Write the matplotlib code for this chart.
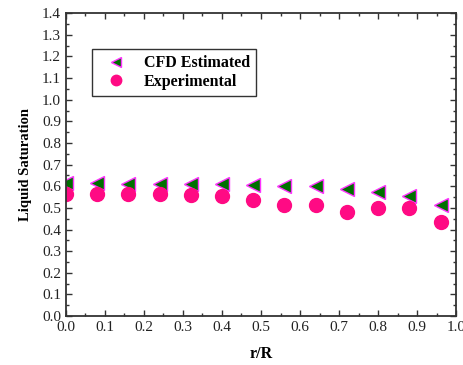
import numpy as np
import matplotlib.pyplot as plt
from matplotlib.ticker import MultipleLocator, FormatStrFormatter

plt.rcParams['font.family'] = ['Liberation Serif', 'DejaVu Serif']

r_R = [0.0, 0.08, 0.16, 0.24, 0.32, 0.40, 0.48, 0.56, 0.64, 0.72, 0.80, 0.88, 0.96]
cfd = [0.614, 0.614, 0.612, 0.611, 0.611, 0.610, 0.605, 0.602, 0.599, 0.586, 0.573, 0.555, 0.514]
eksperimen = [0.563, 0.562, 0.562, 0.563, 0.559, 0.557, 0.537, 0.514, 0.514, 0.483, 0.500, 0.500, 0.434]

fig = plt.figure(figsize=(4.64, 3.65), dpi=100)
ax = fig.add_axes([0.142, 0.134, 0.841, 0.830])

ax.plot(r_R, cfd, linestyle='none', marker='<', markersize=10,
        markerfacecolor='#007000', markeredgecolor='#ff33ff', markeredgewidth=1.0,
        label='CFD Estimated')
ax.plot(r_R, eksperimen, linestyle='none', marker='o', markersize=10,
        markerfacecolor='#ff0a84', markeredgecolor='#ff0a84',
        label='Experimental')

ax.set_xlim(0, 1.0)
ax.set_ylim(0, 1.4)
ax.xaxis.set_major_locator(MultipleLocator(0.1))
ax.xaxis.set_minor_locator(MultipleLocator(0.05))
ax.yaxis.set_major_locator(MultipleLocator(0.1))
ax.yaxis.set_minor_locator(MultipleLocator(0.05))
ax.xaxis.set_major_formatter(FormatStrFormatter('%.1f'))
ax.yaxis.set_major_formatter(FormatStrFormatter('%.1f'))

ax.tick_params(which='both', direction='in', top=True, right=True,
               labelsize=11, color='#333333', labelcolor='#222222')
ax.tick_params(which='major', length=4, width=1)
ax.tick_params(which='minor', length=2.5, width=1)
for s in ax.spines.values():
    s.set_linewidth(1.3)
    s.set_color('#333333')

ax.set_xlabel('r/R', fontsize=11.5, fontweight='bold', labelpad=9)
ax.set_ylabel('Liquid Saturation', fontsize=10.5, fontweight='bold', labelpad=7)

leg = ax.legend(loc='upper left', bbox_to_anchor=(0.068, 0.882),
                prop={'weight': 'bold', 'size': 11.5}, frameon=True, fancybox=False,
                handletextpad=0.6, borderpad=0.4, labelspacing=0.15, handlelength=2.2,
                markerscale=0.75, borderaxespad=0)
leg.get_frame().set_edgecolor('black')
leg.get_frame().set_linewidth(1)

fig.savefig('out.png', dpi=100)
